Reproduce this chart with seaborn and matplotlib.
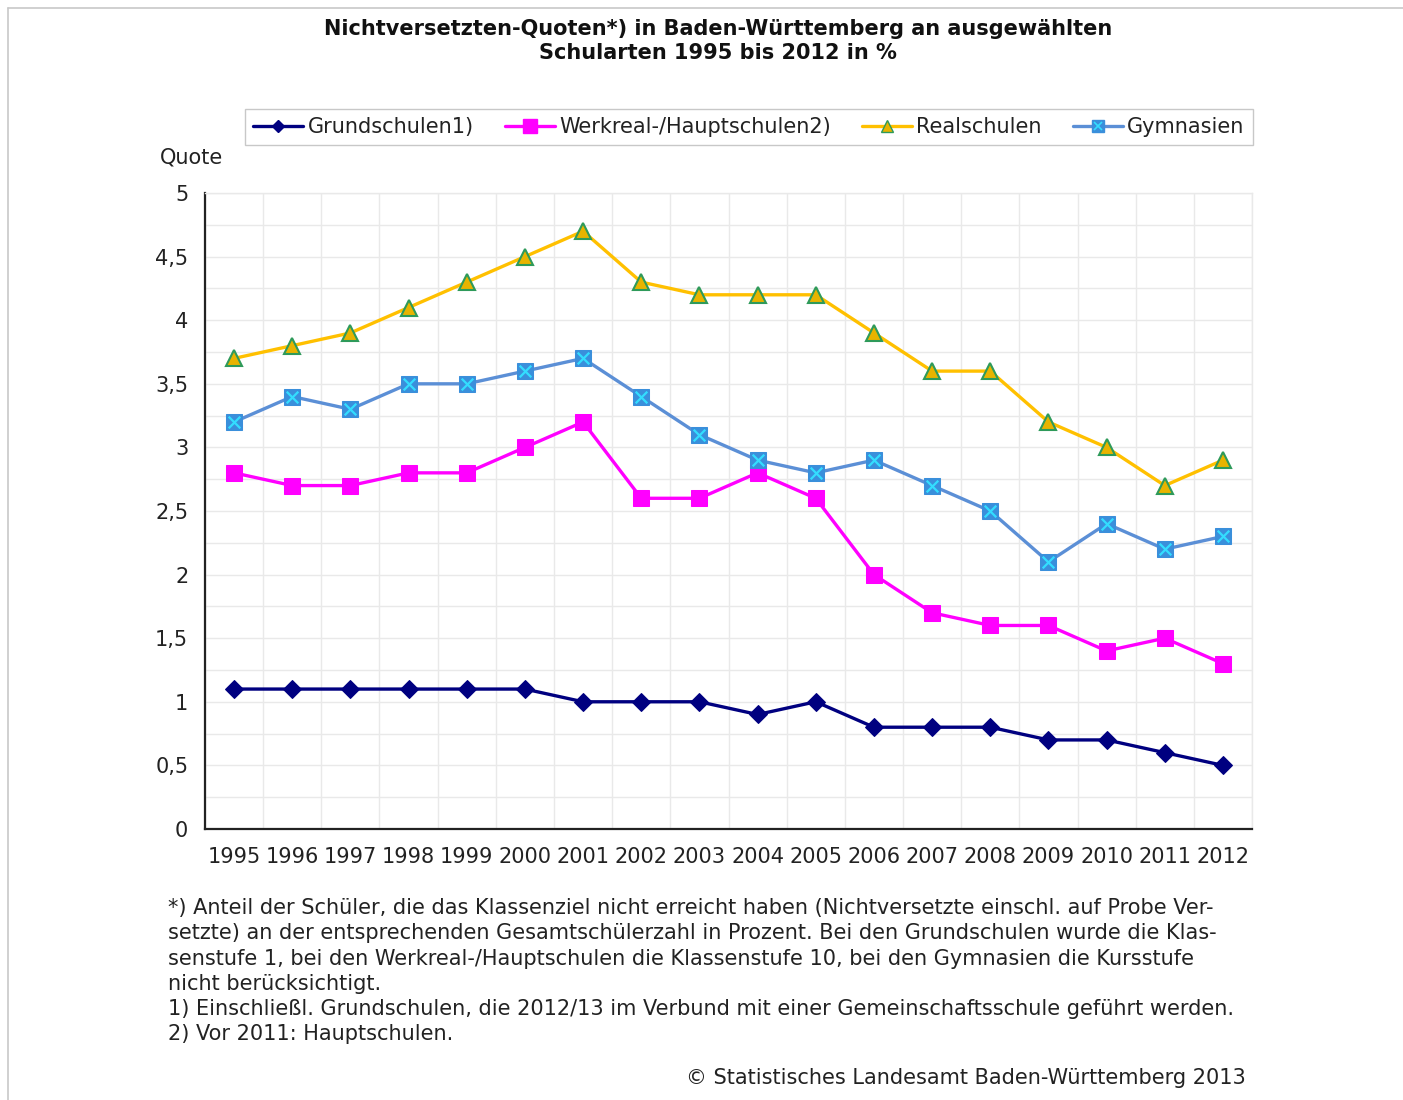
import numpy as np
import pandas as pd
import seaborn as sns
import matplotlib.pyplot as plt
from matplotlib.ticker import FuncFormatter, MultipleLocator, FixedLocator
from matplotlib.lines import Line2D

years = [str(y) for y in range(1995, 2013)]
grundschulen = [1.1, 1.1, 1.1, 1.1, 1.1, 1.1, 1.0, 1.0, 1.0, 0.9, 1.0, 0.8, 0.8, 0.8, 0.7, 0.7, 0.6, 0.5]
werkreal = [2.8, 2.7, 2.7, 2.8, 2.8, 3.0, 3.2, 2.6, 2.6, 2.8, 2.6, 2.0, 1.7, 1.6, 1.6, 1.4, 1.5, 1.3]
realschulen = [3.7, 3.8, 3.9, 4.1, 4.3, 4.5, 4.7, 4.3, 4.2, 4.2, 4.2, 3.9, 3.6, 3.6, 3.2, 3.0, 2.7, 2.9]
gymnasien = [3.2, 3.4, 3.3, 3.5, 3.5, 3.6, 3.7, 3.4, 3.1, 2.9, 2.8, 2.9, 2.7, 2.5, 2.1, 2.4, 2.2, 2.3]

labels = ['Grundschulen1)', 'Werkreal-/Hauptschulen2)', 'Realschulen', 'Gymnasien']

title = 'Nichtversetzten-Quoten*) in Baden-Württemberg an ausgewählten\nSchularten 1995 bis 2012 in %'
footnote = ('*) Anteil der Schüler, die das Klassenziel nicht erreicht haben (Nichtversetzte einschl. auf Probe Ver-\n'
            'setzte) an der entsprechenden Gesamtschülerzahl in Prozent. Bei den Grundschulen wurde die Klas-\n'
            'senstufe 1, bei den Werkreal-/Hauptschulen die Klassenstufe 10, bei den Gymnasien die Kursstufe\n'
            'nicht berücksichtigt.\n'
            '1) Einschließl. Grundschulen, die 2012/13 im Verbund mit einer Gemeinschaftsschule geführt werden.\n'
            '2) Vor 2011: Hauptschulen.')
copyright_txt = '© Statistisches Landesamt Baden-Württemberg 2013'

sns.set_style('white')
plt.rcParams['font.family'] = ['DejaVu Sans']

fig = plt.figure(figsize=(14.03, 11), dpi=100)
ax = fig.add_axes([0.1461, 0.2464, 0.8924 - 0.1461, 0.8245 - 0.2464])

lw = 2.4
sns.lineplot(x=years, y=grundschulen, ax=ax, color='#000080', lw=lw, marker='D',
             markersize=9, markeredgecolor='#000080', zorder=3)
sns.lineplot(x=years, y=werkreal, ax=ax, color='#FF00FF', lw=lw, marker='s',
             markersize=11, markeredgecolor='#FF00FF', zorder=3)
sns.lineplot(x=years, y=realschulen, ax=ax, color='#FFC000', lw=lw, marker='^',
             markersize=12, markerfacecolor='#E8B400', markeredgecolor='#2E9A5A',
             markeredgewidth=1.5, zorder=3)
sns.lineplot(x=years, y=gymnasien, ax=ax, color='#5B8FD6', lw=lw, marker='s',
             markersize=12, markerfacecolor='#3A8FDB', markeredgecolor='#3A8FDB', zorder=3)
sns.scatterplot(x=years, y=gymnasien, ax=ax, marker='x', s=70, color='#33DDFF',
                linewidth=1.6, zorder=4)

ax.set_xlim(-0.5, 17.5)
ax.set_ylim(0, 5)
ax.set_xlabel('')
ax.set_ylabel('')

# ticks between categories, labels at centres
ax.xaxis.set_minor_locator(FixedLocator(np.arange(-0.5, 18, 1)))
ax.tick_params(axis='x', which='major', length=0, labelsize=15, pad=13)
ax.tick_params(axis='x', which='minor', length=8, width=1.3, color='#222222', direction='out')
ax.yaxis.set_major_locator(MultipleLocator(0.5))
ax.yaxis.set_minor_locator(MultipleLocator(0.25))
ax.yaxis.set_major_formatter(FuncFormatter(lambda v, p: ('%g' % v).replace('.', ',')))
ax.tick_params(axis='y', which='major', length=6, width=1.3, color='#222222', labelsize=15,
               direction='out', pad=6)
ax.tick_params(axis='y', which='minor', length=0)
ax.tick_params(colors='#222222', which='both')

ax.grid(False)
ax.grid(True, axis='x', which='minor', color='#e9e9e9', lw=1)
ax.grid(True, axis='y', which='both', color='#e9e9e9', lw=1)
ax.set_axisbelow(True)

for s in ['left', 'bottom']:
    ax.spines[s].set_color('#222222')
    ax.spines[s].set_linewidth(1.6)
for s in ['top', 'right']:
    ax.spines[s].set_color('#e9e9e9')
    ax.spines[s].set_linewidth(1)

# legend
h1 = Line2D([], [], color='#000080', lw=lw, marker='D', markersize=6)
h2 = Line2D([], [], color='#FF00FF', lw=lw, marker='s', markersize=10)
h3 = Line2D([], [], color='#FFC000', lw=lw, marker='^', markersize=8,
            markerfacecolor='#E8B400', markeredgecolor='#2E9A5A')
h4a = Line2D([], [], color='#5B8FD6', lw=lw, marker='s', markersize=8,
             markerfacecolor='#3A8FDB', markeredgecolor='#3A8FDB')
h4b = Line2D([], [], ls='none', marker='x', markersize=6, color='#33DDFF', markeredgewidth=1.2)
leg = fig.legend([h1, h2, h3, (h4a, h4b)], labels, loc='center',
                 bbox_to_anchor=(0.5339, 0.8845), ncol=4, fontsize=15,
                 frameon=True, fancybox=False, edgecolor='#bbbbbb',
                 handlelength=2.4, handletextpad=0.2, columnspacing=1.5,
                 borderpad=0.4)
for t in leg.get_texts():
    t.set_color('#222222')

fig.text(0.1140, 1 - 157 / 1100, 'Quote', fontsize=15, color='#222222', va='center', ha='left')
fig.text(0.512, 1 - 41 / 1100, title, fontsize=15, fontweight='bold', ha='center',
         va='center', linespacing=1.3, color='#111111')
fig.text(168 / 1403, 1 - 898 / 1100, footnote, fontsize=15, ha='left', va='top',
         linespacing=1.33, color='#222222')
fig.text(1246 / 1403, 1 - 1078 / 1100, copyright_txt, fontsize=15, ha='right', va='center',
         color='#222222')

# thin frame on left and top
fig.add_artist(Line2D([8 / 1403, 8 / 1403], [0, 1 - 8 / 1100], color='#c8c8c8', lw=1.2))
fig.add_artist(Line2D([8 / 1403, 1], [1 - 8 / 1100, 1 - 8 / 1100], color='#c8c8c8', lw=1.2))

fig.savefig('out.png', dpi=100)
